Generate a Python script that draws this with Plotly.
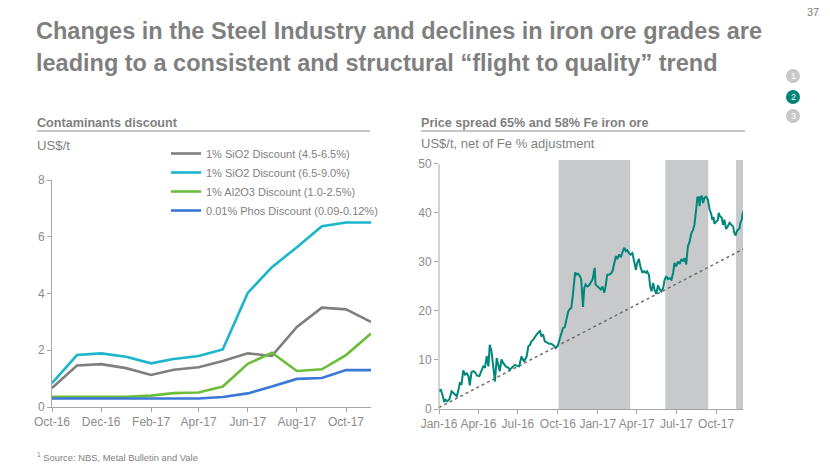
import plotly.graph_objects as go

W, H = 830, 467
def px(x): return x / W
def py(y): return 1 - y / H

# ---------------- Left chart data ----------------
months = ["2016-10-01", "2016-11-01", "2016-12-01", "2017-01-01", "2017-02-01", "2017-03-01",
          "2017-04-01", "2017-05-01", "2017-06-01", "2017-07-01", "2017-08-01", "2017-09-01",
          "2017-10-01", "2017-11-01"]
sio2_low = [0.67, 1.46, 1.51, 1.37, 1.13, 1.31, 1.40, 1.62, 1.89, 1.80, 2.82, 3.50, 3.44, 3.00]
sio2_high = [0.84, 1.83, 1.89, 1.77, 1.54, 1.69, 1.80, 2.03, 4.02, 4.93, 5.63, 6.37, 6.50, 6.50]
al2o3 = [0.36, 0.36, 0.36, 0.36, 0.40, 0.49, 0.51, 0.72, 1.52, 1.91, 1.27, 1.33, 1.83, 2.59]
phos = [0.30, 0.30, 0.30, 0.30, 0.30, 0.30, 0.30, 0.35, 0.48, 0.72, 0.99, 1.02, 1.30, 1.30]
left_names = ["1% SiO2 Discount (4.5-6.5%)", "1% SiO2 Discount (6.5-9.0%)",
              "1% Al2O3 Discount (1.0-2.5%)", "0.01% Phos Discount (0.09-0.12%)"]
left_colors = ["#7f7f7f", "#1bb5cc", "#6cbd3a", "#3a77d6"]

# ---------------- Right chart data ----------------
spread_dates = [
    "2016-01-01", "2016-01-05", "2016-01-09", "2016-01-13", "2016-01-16", "2016-01-20", "2016-01-25",
    "2016-01-30", "2016-02-03", "2016-02-07", "2016-02-11", "2016-02-15", "2016-02-18", "2016-02-22",
    "2016-02-26", "2016-03-01", "2016-03-05", "2016-03-09", "2016-03-12", "2016-03-16", "2016-03-20",
    "2016-03-24", "2016-03-29", "2016-04-03", "2016-04-08", "2016-04-12", "2016-04-16", "2016-04-20",
    "2016-04-24", "2016-04-27", "2016-05-01", "2016-05-05", "2016-05-09", "2016-05-13", "2016-05-17",
    "2016-05-20", "2016-05-24", "2016-05-28", "2016-06-03", "2016-06-09", "2016-06-12", "2016-06-19",
    "2016-06-24", "2016-06-29", "2016-07-04", "2016-07-09", "2016-07-15", "2016-07-21", "2016-07-25",
    "2016-07-29", "2016-08-01", "2016-08-05", "2016-08-09", "2016-08-13", "2016-08-17", "2016-08-21",
    "2016-08-24", "2016-08-28", "2016-09-01", "2016-09-05", "2016-09-11", "2016-09-16", "2016-09-22",
    "2016-09-26", "2016-10-01", "2016-10-06", "2016-10-09", "2016-10-13", "2016-10-17", "2016-10-21",
    "2016-10-25", "2016-10-29", "2016-11-01", "2016-11-04", "2016-11-07", "2016-11-10", "2016-11-13",
    "2016-11-17", "2016-11-21", "2016-11-24", "2016-11-28", "2016-12-01", "2016-12-04", "2016-12-08",
    "2016-12-12", "2016-12-16", "2016-12-20", "2016-12-23", "2016-12-25", "2016-12-27", "2016-12-31",
    "2017-01-04", "2017-01-08", "2017-01-12", "2017-01-16", "2017-01-19", "2017-01-23", "2017-01-27",
    "2017-01-31", "2017-02-04", "2017-02-08", "2017-02-12", "2017-02-15", "2017-02-19", "2017-02-23",
    "2017-02-27", "2017-03-03", "2017-03-07", "2017-03-10", "2017-03-14", "2017-03-18", "2017-03-22",
    "2017-03-26", "2017-03-30", "2017-04-02", "2017-04-06", "2017-04-10", "2017-04-14", "2017-04-18",
    "2017-04-22", "2017-04-25", "2017-04-29", "2017-05-02", "2017-05-05", "2017-05-09", "2017-05-12",
    "2017-05-16", "2017-05-20", "2017-05-24", "2017-05-28", "2017-06-01", "2017-06-04", "2017-06-08",
    "2017-06-12", "2017-06-16", "2017-06-20", "2017-06-24", "2017-06-27", "2017-07-01", "2017-07-05",
    "2017-07-09", "2017-07-13", "2017-07-17", "2017-07-20", "2017-07-24", "2017-07-28", "2017-08-01",
    "2017-08-05", "2017-08-09", "2017-08-12", "2017-08-16", "2017-08-19", "2017-08-22", "2017-08-24",
    "2017-08-26", "2017-08-29", "2017-09-01", "2017-09-04", "2017-09-08", "2017-09-12", "2017-09-16",
    "2017-09-20", "2017-09-22", "2017-09-25", "2017-09-27", "2017-10-01", "2017-10-05", "2017-10-07",
    "2017-10-10", "2017-10-14", "2017-10-17", "2017-10-20", "2017-10-24", "2017-10-28", "2017-11-01",
    "2017-11-05", "2017-11-09", "2017-11-12", "2017-11-15", "2017-11-18", "2017-11-21", "2017-11-24",
    "2017-11-26", "2017-11-29", "2017-12-02"]
spread_values = [
    3.6, 4.0, 2.9, 1.4, 1.9, 1.6, 2.0,
    3.6, 3.3, 2.9, 2.6, 3.9, 5.3, 5.1,
    7.9, 7.0, 7.3, 6.7, 4.8, 7.5, 7.7,
    7.5, 6.8, 6.7, 7.7, 8.7, 8.4, 10.8,
    8.7, 13.1, 11.8, 8.7, 5.6, 10.4, 8.7,
    7.7, 10.1, 9.4, 8.7, 8.4, 8.0, 8.7,
    9.0, 8.8, 8.7, 10.7, 9.7, 10.7, 12.8,
    13.1, 13.8, 14.1, 14.8, 15.2, 15.6, 15.9,
    14.8, 15.2, 13.8, 13.6, 13.3, 13.3, 12.9,
    12.4, 12.9, 14.5, 15.5, 16.5, 16.7, 18.6,
    19.9, 20.4, 20.6, 22.7, 26.1, 27.9, 27.4,
    27.6, 27.1, 26.4, 20.8, 24.7, 25.4, 25.0,
    25.2, 25.7, 26.4, 27.8, 28.8, 25.4, 25.0,
    24.7, 24.4, 25.0, 23.7, 25.0, 27.4, 27.4,
    27.6, 28.1, 29.8, 31.2, 30.6, 31.5, 31.0,
    31.8, 32.9, 32.2, 32.4, 31.8, 31.5, 31.8,
    29.8, 28.4, 29.8, 30.6, 28.8, 27.9, 28.1,
    27.8, 28.1, 27.4, 25.0, 24.0, 25.7, 24.3,
    23.5, 25.2, 24.4, 24.0, 24.7, 26.3, 27.1,
    26.5, 26.7, 26.4, 27.8, 29.8, 29.1, 30.1,
    29.6, 30.6, 30.1, 30.8, 29.5, 33.2, 34.2,
    35.9, 36.6, 37.6, 40.7, 43.3, 43.1, 41.4,
    43.3, 43.4, 42.0, 43.1, 43.3, 42.7, 40.7,
    39.7, 38.6, 39.2, 37.8, 38.3, 38.6, 40.0,
    39.3, 39.0, 37.6, 38.6, 36.7, 37.3, 38.0,
    37.6, 37.3, 35.9, 35.4, 36.3, 36.6, 36.9,
    38.0, 38.6, 40.3]
trend_dates = ["2016-01-01", "2017-12-02"]
trend_values = [0.3, 32.6]
shade_starts = ["2016-10-03", "2017-06-06", "2017-11-16"]
shade_ends = ["2017-03-17", "2017-09-13", "2017-12-02"]

# ---------------- Styles ----------------
FONT = "Liberation Sans, Arial, sans-serif"
TXT = "#7f7f7f"
TICK = "#8c8c8c"
AXL = "#a6a6a6"

fig = go.Figure()

for name, vals, col in zip(left_names, [sio2_low, sio2_high, al2o3, phos], left_colors):
    fig.add_trace(go.Scatter(x=months, y=vals, name=name, mode="lines",
                             line=dict(color=col, width=2.6), xaxis="x", yaxis="y"))

fig.add_trace(go.Scatter(x=trend_dates, y=trend_values, mode="lines", showlegend=False,
                         line=dict(color="#6f6f6f", width=1.5, dash="dot"), xaxis="x2", yaxis="y2"))
fig.add_trace(go.Scatter(x=spread_dates, y=spread_values, mode="lines", showlegend=False,
                         line=dict(color="#00877c", width=2), xaxis="x2", yaxis="y2"))

shapes = []
for s, e in zip(shade_starts, shade_ends):
    shapes.append(dict(type="rect", xref="x2", yref="y2", x0=s, x1=e, y0=0, y1=50.8,
                       fillcolor="#c8c9cb", line=dict(width=0), layer="below"))
# right y-axis line (0 to 50)
shapes.append(dict(type="line", xref="x2 domain", yref="y2", x0=0, x1=0, y0=0, y1=50,
                   line=dict(color=AXL, width=1)))
# section underlines
shapes.append(dict(type="line", xref="paper", yref="paper", x0=px(37), x1=px(370), y0=py(131), y1=py(131),
                   line=dict(color="#8c8c8c", width=1)))
shapes.append(dict(type="line", xref="paper", yref="paper", x0=px(421), x1=px(745), y0=py(131), y1=py(131),
                   line=dict(color="#8c8c8c", width=1)))
# page dots
for yy, col in [(76, "#c8c8c8"), (97, "#00857a"), (116, "#c8c8c8")]:
    shapes.append(dict(type="circle", xref="paper", yref="paper",
                       x0=px(786), x1=px(800), y0=py(yy + 7), y1=py(yy - 7),
                       fillcolor=col, line=dict(width=0)))

def ann(text, x, y, size, family=FONT, color=TXT, xanchor="left"):
    return dict(text=text, x=px(x), y=py(y), xref="paper", yref="paper", xanchor=xanchor,
                yanchor="middle", showarrow=False, xshift=-1 if xanchor == "left" else 0,
                font=dict(family=family, size=size, color=color))

annotations = [
    ann("<b>Changes in the Steel Industry and declines in iron ore grades are</b>", 35, 31, 23.5),
    ann("<b>leading to a consistent and structural \u201cflight to quality\u201d trend</b>", 35, 63, 23.5),
    ann("37", 813, 12, 11, xanchor="center"),
    ann("<b>Contaminants discount</b>", 36, 123, 12.6),
    ann("US$/t", 36, 145, 13.2),
    ann("<b>Price spread 65% and 58% Fe iron ore</b>", 420, 123, 12.6),
    ann("US$/t, net of Fe % adjustment", 420, 143, 13),
    ann("<sup>1</sup> Source: NBS, Metal Bulletin and Vale", 36, 457, 9.4),
]
for yy, n in [(76, "1"), (97, "2"), (116, "3")]:
    annotations.append(ann(n, 793, yy, 9, color="white", xanchor="center"))

axis_common = dict(showgrid=False, zeroline=False, showline=True, linecolor=AXL, linewidth=1,
                   ticks="outside", ticklen=4, tickcolor=AXL, automargin=False, tickangle=0,
                   tickfont=dict(family=FONT, size=12, color=TICK))

fig.update_layout(
    width=W, height=H, margin=dict(l=0, r=0, t=0, b=0, autoexpand=False),
    paper_bgcolor="white", plot_bgcolor="rgba(0,0,0,0)",
    font=dict(family=FONT, color=TXT),
    xaxis=dict(domain=[px(52), px(371)], type="date", range=["2016-10-01", "2017-11-01"],
               tick0="2016-10-01", dtick="M2", tickformat="%b-%y", anchor="y", **axis_common),
    yaxis=dict(domain=[py(407), py(180)], range=[0, 8], dtick=2, anchor="x", **axis_common),
    xaxis2=dict(domain=[px(439), px(743)], type="date", range=["2016-01-01", "2017-12-02"],
                tick0="2016-01-01", dtick="M3", tickformat="%b-%y", anchor="y2", **axis_common),
    yaxis2=dict(domain=[py(409), py(160)], range=[0, 50.8], tickvals=[0, 10, 20, 30, 40, 50],
                anchor="x2", **{**axis_common, "showline": False}),
    legend=dict(x=px(166), y=py(139), xanchor="left", yanchor="top", bgcolor="rgba(0,0,0,0)",
                font=dict(family=FONT, size=11, color=TXT), itemwidth=30, tracegroupgap=0),
    shapes=shapes, annotations=annotations, showlegend=True,
)

fig.write_html("out.html", config={"displayModeBar": False},
               post_script="document.body.style.margin='0';document.body.style.overflow='hidden';")
